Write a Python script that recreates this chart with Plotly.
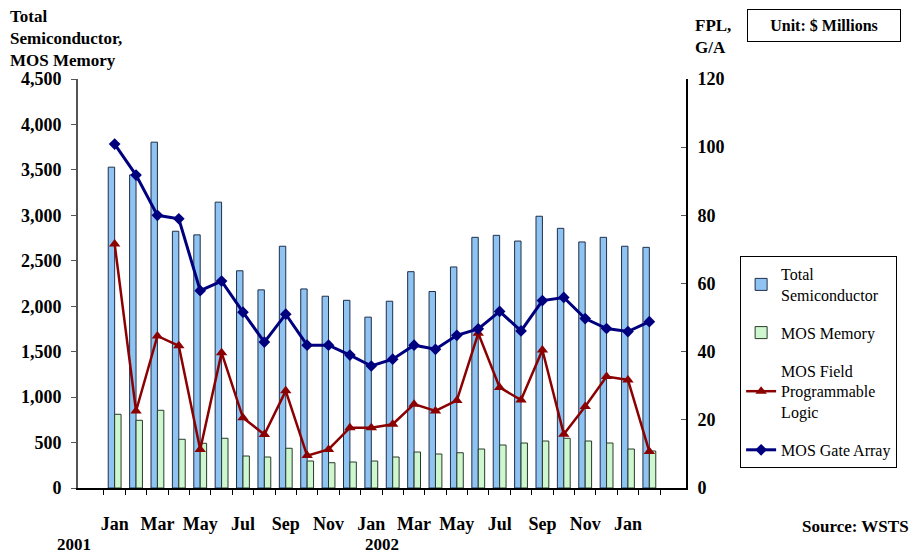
import plotly.graph_objs as go

# months Jan 2001 - Feb 2003
months = ['Jan 01', 'Feb 01', 'Mar 01', 'Apr 01', 'May 01', 'Jun 01', 'Jul 01', 'Aug 01',
          'Sep 01', 'Oct 01', 'Nov 01', 'Dec 01', 'Jan 02', 'Feb 02', 'Mar 02', 'Apr 02',
          'May 02', 'Jun 02', 'Jul 02', 'Aug 02', 'Sep 02', 'Oct 02', 'Nov 02', 'Dec 02',
          'Jan 03', 'Feb 03']
monthLabels = ['Jan', '', 'Mar', '', 'May', '', 'Jul', '', 'Sep', '', 'Nov', '',
               'Jan', '', 'Mar', '', 'May', '', 'Jul', '', 'Sep', '', 'Nov', '',
               'Jan', '']

totalSemi = [3530, 3445, 3805, 2825, 2785, 3145, 2390, 2180, 2660, 2190, 2110, 2065,
             1880, 2055, 2380, 2162, 2432, 2758, 2780, 2717, 2990, 2857, 2707, 2758,
             2660, 2648]
mosMemory = [811, 745, 855, 536, 492, 547, 352, 341, 437, 297, 278, 286,
             297, 341, 396, 374, 388, 429, 473, 495, 517, 547, 517, 495,
             429, 407]
mosFPL = [71.6, 22.6, 44.6, 41.7, 11.3, 39.7, 20.6, 15.7, 28.5, 9.5, 11.3, 17.7,
          17.7, 18.7, 24.6, 22.6, 25.7, 45.4, 29.5, 25.8, 40.5, 15.8, 23.9, 32.7,
          31.7, 10.7]
mosGateArray = [100.9, 91.8, 80.0, 79.0, 57.9, 60.7, 51.6, 42.8, 51.0, 41.9, 41.9, 39.0,
                35.8, 37.8, 41.9, 40.7, 44.8, 46.7, 51.8, 46.1, 55.0, 55.9, 49.7, 46.8,
                45.9, 48.8]

serif = 'Liberation Serif, Times New Roman, serif'

trace1 = go.Bar(x=months, y=totalSemi, name='Total<br>Semiconductor',
                marker=dict(color='#8EC3F2', line=dict(color='#1F2F4A', width=1)),
                legendgroup='a')
trace2 = go.Bar(x=months, y=mosMemory, name='MOS Memory',
                marker=dict(color='#CFF7CF', line=dict(color='#2A3A2A', width=1)),
                legendgroup='b')
trace3 = go.Scatter(x=months, y=mosFPL, name='MOS Field<br>Programmable<br>Logic', yaxis='y2',
                    mode='lines+markers', line=dict(color='#8B0000', width=2.5),
                    marker=dict(symbol='triangle-up', size=10, color='#8B0000'),
                    legendgroup='c')
trace4 = go.Scatter(x=months, y=mosGateArray, name='MOS Gate Array', yaxis='y2',
                    mode='lines+markers', line=dict(color='#00007F', width=3),
                    marker=dict(symbol='diamond', size=9, color='#00007F'),
                    legendgroup='d')

fig = go.Figure(data=[trace1, trace2, trace3, trace4])

tickFont = dict(family=serif, size=18, weight='bold')

# page has an 8px body margin, so the figure is 8px smaller than the window
fig.update_layout(
    width=911, height=548,
    margin=dict(l=70, r=233, t=71, b=68, autoexpand=False),
    paper_bgcolor='white', plot_bgcolor='white',
    font=dict(family=serif, size=16, color='black'),
    barmode='group', bargap=0.4, bargroupgap=0,
    showlegend=True,
    legend=dict(x=1.089, y=0.567, xanchor='left', yanchor='top',
                bordercolor='black', borderwidth=1, tracegroupgap=14,
                font=dict(family=serif, size=16), itemwidth=30),
    xaxis=dict(type='category', tickvals=months, ticktext=monthLabels, tickangle=0,
               tickson='boundaries', ticks='outside', ticklen=5, tickcolor='black',
               showline=True, linecolor='black', linewidth=2,
               tickfont=tickFont, ticklabelstandoff=18, showgrid=False),
    yaxis=dict(range=[0, 4500], dtick=500, tickformat=',', showgrid=False,
               showline=True, linecolor='#555555', linewidth=2, ticks='outside',
               ticklen=5, tickcolor='#555555', zeroline=False, tickfont=tickFont,
               ticklabelstandoff=6),
    yaxis2=dict(range=[0, 120], dtick=20, overlaying='y', side='right', showgrid=False,
                showline=True, linecolor='black', linewidth=2, ticks='inside',
                ticklen=5, tickcolor='#555555', zeroline=False, tickfont=tickFont,
                ticklabelstandoff=6),
)

# axis titles, years and source
notes = [
    dict(x=-0.115, y=1.18, text='<b>Total<br>Semiconductor,<br>MOS Memory</b>', xanchor='left', yanchor='top', align='left'),
    dict(x=1.012, y=1.16, text='<b>FPL,<br>G/A</b>', xanchor='left', yanchor='top', align='left'),
    dict(x=-0.038, y=-0.11, text='<b>2001</b>', xanchor='left', yanchor='top'),
    dict(x=0.468, y=-0.11, text='<b>2002</b>', xanchor='left', yanchor='top'),
    dict(x=1.37, y=-0.065, text='<b>Source: WSTS</b>', xanchor='right', yanchor='top'),
]
for n in notes:
    fig.add_annotation(xref='paper', yref='paper', showarrow=False,
                       font=dict(family=serif, size=17), **n)

# unit box
fig.add_annotation(x=1.353, y=1.17, xref='paper', yref='paper', showarrow=False,
                   text='<b>Unit: $ Millions</b>', xanchor='right', yanchor='top',
                   font=dict(family=serif, size=16), bordercolor='black', borderwidth=1,
                   borderpad=7, width=138)

fig.write_html("out.html")
